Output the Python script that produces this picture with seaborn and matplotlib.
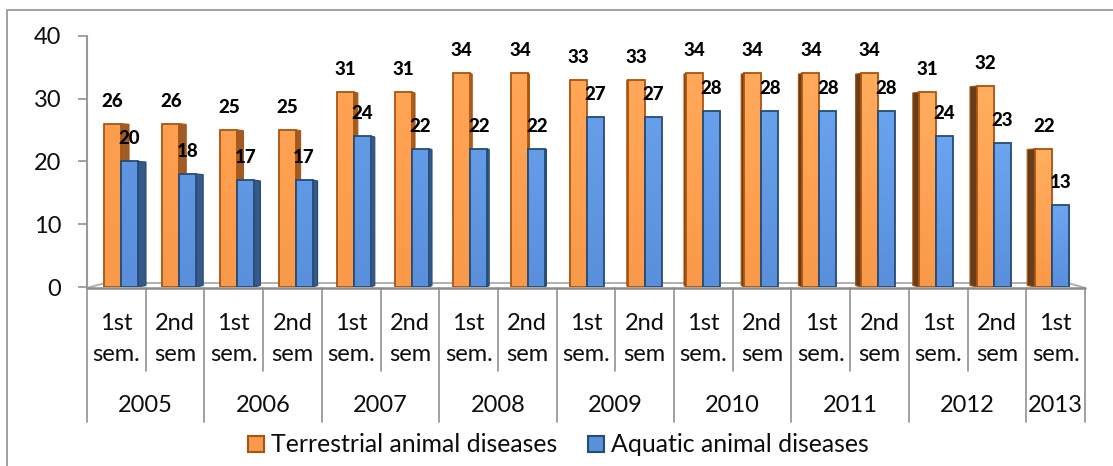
import numpy as np
import pandas as pd
import matplotlib
matplotlib.use("Agg")
import matplotlib.pyplot as plt
import seaborn as sns
from matplotlib.patches import Polygon, Rectangle
from matplotlib.lines import Line2D
from matplotlib.transforms import blended_transform_factory

semesters = ["1st\nsem.", "2nd\nsem"] * 8 + ["1st\nsem."]
years = ["2005", "2006", "2007", "2008", "2009", "2010", "2011", "2012", "2013"]
year_spans = [2, 2, 2, 2, 2, 2, 2, 2, 1]
terrestrial = [26, 26, 25, 25, 31, 31, 34, 34, 33, 33, 34, 34, 34, 34, 31, 32, 22]
aquatic = [20, 18, 17, 17, 24, 22, 22, 22, 27, 27, 28, 28, 28, 28, 24, 23, 13]
series_names = ["Terrestrial animal diseases", "Aquatic animal diseases"]

W, H = 1113, 466
AX_L, AX_R, AX_T, AX_B = 87, 1085, 35.7, 287
PITCH = 58.2   # bars sit on a slightly tighter pitch than the category ticks
FIRST = 121

sns.set_theme(style="white")
plt.rcParams["font.family"] = ["Lato", "DejaVu Sans"]

df = pd.DataFrame({
    "slot": list(range(len(terrestrial))) * 2,
    "value": terrestrial + aquatic,
    "series": [series_names[0]] * len(terrestrial) + [series_names[1]] * len(aquatic),
})

fig = plt.figure(figsize=(W / 100, H / 100), dpi=100)
ax = fig.add_axes([AX_L / W, 1 - AX_B / H, (AX_R - AX_L) / W, (AX_B - AX_T) / H])

colors = {"o_face": "#F9994A", "o_edge": "#A9540F", "o_side": "#9F5C28", "o_dark": "#673D1C",
          "b_face": "#5A90DB", "b_edge": "#264B75", "b_side": "#355A8A", "b_dark": "#2A4A70"}
grey = "#9A9A9A"
txt = "#0D0D0D"

sns.barplot(data=df, x="slot", y="value", hue="series", order=range(17),
            hue_order=series_names, palette=[colors["o_face"], colors["b_face"]],
            width=34 / PITCH, gap=0, legend=False, saturation=1, ax=ax)
xlim = (-(FIRST - AX_L) / PITCH, (AX_R - FIRST) / PITCH)
ax.set_xlabel("")
ax.set_ylabel("")
ax.set_yticks([0, 10, 20, 30, 40])
ax.set_xticks([])
ax.tick_params(axis="y", labelsize=17, left=True, length=6.5, width=1.3, color=grey,
               pad=12, labelcolor=txt)
for s in ["top", "right", "bottom"]:
    ax.spines[s].set_visible(False)
ax.spines["left"].set_color(grey)
ax.spines["left"].set_linewidth(1.5)
ax.patch.set_alpha(0)

px_x = 1 / PITCH
px_y = 40 / (AX_B - AX_T)

bars = [p for p in ax.patches if p.get_height() > 0]
n = len(terrestrial)
for idx, bar in enumerate(bars):
    orange = idx < n
    x0, w, h = bar.get_x(), bar.get_width(), bar.get_height()
    slot = idx % n
    edge_col = colors["o_edge"] if orange else colors["b_edge"]
    # side face of the pseudo 3d bars, turns from right to left along the axis
    dx = 8 * (1 - slot / 8) * px_x
    edge = x0 + w if dx > 0 else x0
    if dx > 0:
        side_col = colors["o_side"] if orange else colors["b_side"]
    else:
        side_col = colors["o_dark"] if orange else colors["b_dark"]
    side = Polygon([(edge, 0), (edge + dx, 1.5 * px_y), (edge + dx, h - 0.7 * px_y), (edge, h)],
                   closed=True, facecolor=side_col, edgecolor=edge_col, linewidth=0.8,
                   zorder=2 if orange else (3.5 if dx > 0 else 2.5))
    ax.add_patch(side)
    bar.set_edgecolor("none")
    bar.set_zorder(3 if orange else 4)
    # light gradient on front face, stronger towards the right
    base = np.array(matplotlib.colors.to_rgb(bar.get_facecolor()))
    grad = np.linspace(0, 1, 32).reshape(-1, 1, 1) * (np.array([0.05, 0.06, 0.06]) * (0.4 + slot / 16))
    img = ax.imshow(np.clip(base + grad, 0, 1), extent=[x0, x0 + w, 0, h], origin="lower",
                    aspect="auto", zorder=3.1 if orange else 4.1)
    img.set_clip_path(bar)
    ax.add_patch(Rectangle((x0, 0), w, h, fill=False, edgecolor=edge_col, linewidth=1.3,
                           zorder=3.2 if orange else 4.2))
    ax.text(x0 + w / 2, h + 22.5 * px_y, str(int(h)), ha="center", va="center", fontsize=13.5,
            fontweight="black", color="black", zorder=6)
ax.set_xlim(*xlim)
ax.set_ylim(0, 40)

# floor of the 3d box and the category axis, x given as a fraction of the axis length
tr = blended_transform_factory(ax.transAxes, ax.transData)
span = AX_R - AX_L
ax.plot([0, 18 / span, 1 - 17 / span, 1], [-0.15, 4 * px_y, 4 * px_y, -0.15], color="#B0B0B0",
        lw=1.4, transform=tr, clip_on=False, zorder=1)
ax.plot([0, 1], [-0.15, -0.15], color="#8C8C8C", lw=1.8, transform=tr, clip_on=False, zorder=5)

for i in range(18):
    ybot = 422 if (i % 2 == 0 or i == 17) else 371
    ax.plot([i / 17, i / 17], [-0.15, -(ybot - AX_B) * px_y], color=grey, lw=1.3,
            transform=tr, clip_on=False, zorder=1)
for i, lab in enumerate(semesters):
    ax.text((i + 0.5) / 17, -(339 - AX_B) * px_y, lab, ha="center", va="center", fontsize=17,
            linespacing=1.6, color=txt, transform=tr)
pos = 0
for yr, yr_span in zip(years, year_spans):
    ax.text((pos + yr_span / 2) / 17, -(406 - AX_B) * px_y, yr, ha="center", va="center",
            fontsize=17, color=txt, transform=tr)
    pos += yr_span

# legend
handles = [Rectangle((0, 0), 1, 1, facecolor=colors["o_face"], edgecolor=colors["o_edge"], lw=1.5),
           Rectangle((0, 0), 1, 1, facecolor=colors["b_face"], edgecolor=colors["b_edge"], lw=1.5)]
fig.legend(handles, series_names, loc="center", bbox_to_anchor=(558 / W, 1 - 445 / H), ncol=2,
           frameon=False, fontsize=17.9, handlelength=0.64, handleheight=0.64,
           handletextpad=0.28, columnspacing=1.24, labelcolor=txt)

# chart border, only top and left show in the crop
fig.add_artist(Line2D([7 / W, 7 / W, 1], [0, 1 - 10 / H, 1 - 10 / H], color="#999999", lw=1.3))

fig.savefig("out.png", dpi=100)
